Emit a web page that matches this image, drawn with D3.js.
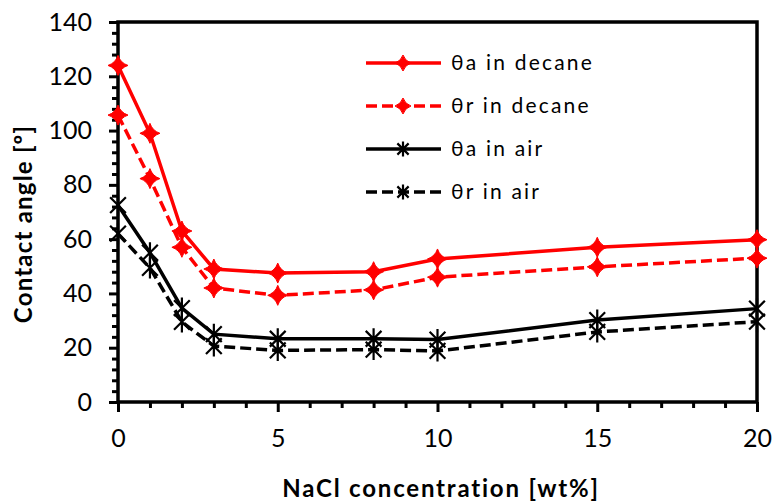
<!DOCTYPE html>
<html lang="en">
<head>
    <meta charset="UTF-8">
    <title>Contact angle vs NaCl concentration</title>
    <script src="https://d3js.org/d3.v7.min.js"></script>
    <style>
        body { margin: 0; background: #fff; }
        text { font-family: Lato, "Open Sans", sans-serif; fill: #000; }
    </style>
</head>
<body>
    <div id="chart"></div>

    <script>
        // NaCl concentration (wt%)
        const concentration = [0, 1, 2, 3, 5, 8, 10, 15, 20];

        // contact angles (degrees)
        const thetaADecane = [124, 99, 63, 49, 47.5, 48, 52.7, 57, 59.8];
        const thetaRDecane = [105.7, 82.3, 57, 42, 39.3, 41.3, 46, 49.8, 53];
        const thetaAAir = [72.5, 55, 34.6, 25, 23.3, 23.3, 23, 30.2, 34.4];
        const thetaRAir = [62, 49.4, 29.5, 20.6, 19, 19.3, 18.8, 25.8, 29.6];

        const seriesNames = ["θa in decane", "θr in decane", "θa in air", "θr in air"];
        const xTicks = [0, 5, 10, 15, 20];
        const yTicks = [0, 20, 40, 60, 80, 100, 120, 140];

        const width = 775, height = 503;
        const margin = { left: 118, right: 18, top: 22, bottom: 101 };

        const svg = d3.select("#chart").append("svg")
            .attr("width", width)
            .attr("height", height);

        const x = d3.scaleLinear()
            .domain([0, 20])
            .range([margin.left, width - margin.right]);

        const y = d3.scaleLinear()
            .domain([0, 140])
            .range([height - margin.bottom, margin.top]);

        const series = [
            { name: seriesNames[0], values: thetaADecane, color: "#ff0000", dash: null, marker: "diamond" },
            { name: seriesNames[1], values: thetaRDecane, color: "#ff0000", dash: "11,5", marker: "diamond" },
            { name: seriesNames[2], values: thetaAAir, color: "#000000", dash: null, marker: "star" },
            { name: seriesNames[3], values: thetaRAir, color: "#000000", dash: "11,5", marker: "star" }
        ];

        // concave diamond like the excel marker
        function diamondPath(r) {
            const c = r * 0.25;
            return `M0,${-r} Q${c},${-c} ${r},0 Q${c},${c} 0,${r} Q${-c},${c} ${-r},0 Q${-c},${-c} 0,${-r} Z`;
        }

        function starPath(r) {
            const d = r * 0.75;
            return `M${-d},${-d}L${d},${d}M${-d},${d}L${d},${-d}M0,${-r}L0,${r}`;
        }

        function drawMarker(g, s, cx, cy, big) {
            if (s.marker === "diamond") {
                g.append("path")
                    .attr("d", diamondPath(big ? 10 : 8))
                    .attr("transform", `translate(${cx},${cy})`)
                    .attr("fill", s.color)
                    .attr("stroke", s.color)
                    .attr("stroke-width", 1);
            } else {
                g.append("path")
                    .attr("d", starPath(big ? 10.5 : 7.5))
                    .attr("transform", `translate(${cx},${cy})`)
                    .attr("fill", "none")
                    .attr("stroke", s.color)
                    .attr("stroke-width", 2.2);
            }
        }

        // axes with minor ticks
        const xMinor = d3.range(0, 21, 1).filter(v => v % 5 !== 0);
        const yMinor = d3.range(0, 141, 4).filter(v => v % 20 !== 0);

        const axisG = svg.append("g");

        axisG.append("g")
            .attr("transform", `translate(0,${y(0)})`)
            .call(d3.axisBottom(x).tickValues(xMinor).tickSize(6).tickFormat(""))
            .call(g => g.select(".domain").remove())
            .selectAll("line").attr("stroke-width", 3);

        axisG.append("g")
            .attr("transform", `translate(0,${y(0)})`)
            .call(d3.axisBottom(x).tickValues(xTicks).tickSize(10).tickPadding(24))
            .call(g => g.select(".domain").remove())
            .call(g => g.selectAll("line").attr("stroke-width", 3))
            .call(g => g.selectAll("text").attr("font-size", 25).attr("dy", "0.45em"));

        axisG.append("g")
            .attr("transform", `translate(${x(0)},0)`)
            .call(d3.axisLeft(y).tickValues(yMinor).tickSize(6).tickFormat(""))
            .call(g => g.select(".domain").remove())
            .selectAll("line").attr("stroke-width", 3);

        axisG.append("g")
            .attr("transform", `translate(${x(0)},0)`)
            .call(d3.axisLeft(y).tickValues(yTicks).tickSize(9).tickPadding(17))
            .call(g => g.select(".domain").remove())
            .call(g => g.selectAll("line").attr("stroke-width", 3))
            .call(g => g.selectAll("text").attr("font-size", 25));

        // frame
        svg.append("rect")
            .attr("x", x(0))
            .attr("y", y(140))
            .attr("width", x(20) - x(0))
            .attr("height", y(0) - y(140))
            .attr("fill", "none")
            .attr("stroke", "#000")
            .attr("stroke-width", 3.5);

        // lines and markers
        const line = d3.line()
            .x((d, i) => x(concentration[i]))
            .y(d => y(d));

        series.forEach(s => {
            const g = svg.append("g");
            g.append("path")
                .datum(s.values)
                .attr("d", line)
                .attr("fill", "none")
                .attr("stroke", s.color)
                .attr("stroke-width", 3.5)
                .attr("stroke-dasharray", s.dash);
            s.values.forEach((v, i) => drawMarker(g, s, x(concentration[i]), y(v), true));
        });

        // legend
        const legend = svg.append("g");
        series.forEach((s, i) => {
            const ly = 63 + i * 43;
            legend.append("line")
                .attr("x1", 366).attr("x2", 441)
                .attr("y1", ly).attr("y2", ly)
                .attr("stroke", s.color)
                .attr("stroke-width", 3.5)
                .attr("stroke-dasharray", s.dash);
            drawMarker(legend, s, 403, ly, false);
            legend.append("text")
                .attr("x", 451)
                .attr("y", ly)
                .attr("dy", "0.35em")
                .attr("font-size", 21)
                .attr("letter-spacing", 2.2)
                .text(s.name);
        });

        // axis titles
        svg.append("text")
            .attr("x", 441)
            .attr("y", 497)
            .attr("text-anchor", "middle")
            .attr("font-size", 24)
            .attr("font-weight", "bold")
            .attr("letter-spacing", 1.8)
            .text("NaCl concentration [wt%]");

        svg.append("text")
            .attr("transform", "translate(32,224) rotate(-90)")
            .attr("text-anchor", "middle")
            .attr("font-size", 24)
            .attr("font-weight", "bold")
            .attr("letter-spacing", 1.2)
            .text("Contact angle [º]");
    </script>
</body>
</html>
